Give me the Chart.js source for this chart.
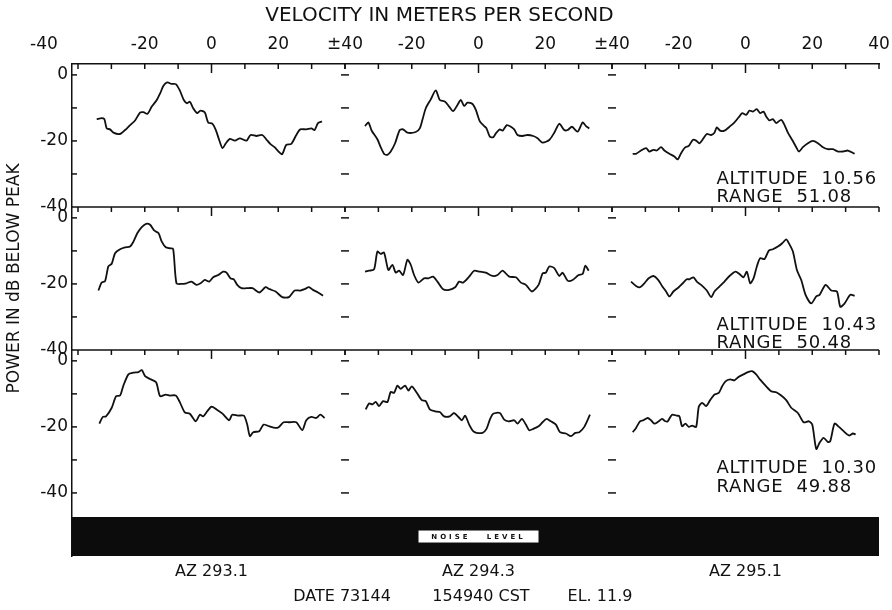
<!DOCTYPE html>
<html>
<head>
<meta charset="utf-8">
<title>Doppler spectra</title>
<script src="https://cdn.jsdelivr.net/npm/chart.js@4.4.1/dist/chart.umd.min.js"></script>
<style>
  body { margin: 0; background: #fff; }
  canvas { display: block; }
</style>
</head>
<body>
<canvas id="myChart" width="892" height="610"></canvas>
<script>
// DATA - velocity (m/s) and power (dB below peak), rows = altitude, columns = azimuth
const vel11 = [-34.4,-32.9,-32.1,-31.4,-30.4,-29.4,-27.4,-25.9,-24.4,-22.9,-21.4,-20.4,-19.2,-17.9,-16.4,-15.4,-14.4,-13.3,-12.0,-10.7,-9.5,-8.3,-7.3,-6.5,-5.5,-4.3,-3.3,-2.0,-1.0,0.3,1.3,2.3,3.3,4.3,5.5,7.0,8.5,10.5,11.7,13.5,15.2,16.4,17.6,18.9,20.4,21.2,22.4,23.9,25.4,26.6,28.4,29.9,30.9,31.9,33.1];
const pow11 = [-13.4,-13.1,-13.4,-16.2,-16.5,-17.5,-17.9,-16.7,-15.2,-13.8,-11.4,-11.3,-11.8,-9.6,-7.6,-5.6,-3.3,-2.3,-2.7,-2.8,-4.7,-7.6,-8.6,-8.1,-10.1,-11.6,-10.8,-11.4,-14.4,-14.8,-16.7,-19.7,-22.2,-20.7,-19.4,-19.9,-19.2,-19.9,-18.2,-18.5,-18.2,-19.5,-20.9,-21.9,-23.5,-24.0,-21.2,-20.9,-18.2,-16.5,-16.5,-16.2,-16.7,-14.6,-14.1];

const vel12 = [-34.0,-33.0,-32.0,-30.3,-29.3,-28.3,-27.3,-26.3,-25.0,-23.6,-22.6,-21.3,-18.8,-17.6,-16.8,-15.8,-14.3,-12.8,-11.6,-10.0,-8.8,-7.6,-6.3,-5.3,-4.3,-3.3,-1.8,-0.8,0.4,1.7,2.4,3.4,4.4,5.2,6.4,7.2,8.5,9.7,10.7,11.7,13.2,14.7,16.4,17.7,19.2,21.2,22.7,24.2,25.7,26.7,28.0,29.7,31.2,32.2,33.2];
const pow12 = [-15.5,-14.4,-16.9,-19.5,-21.9,-23.9,-24.2,-23.2,-20.7,-16.7,-16.5,-17.5,-17.3,-16.2,-13.6,-10.1,-7.4,-4.7,-7.6,-8.1,-9.6,-11.0,-9.1,-7.6,-9.4,-8.4,-8.8,-10.6,-14.1,-15.5,-16.2,-18.7,-18.9,-17.7,-16.5,-16.9,-15.2,-15.7,-16.5,-18.2,-18.5,-18.2,-18.5,-19.2,-20.5,-19.7,-17.5,-14.8,-16.7,-16.7,-15.7,-17.2,-14.4,-15.5,-16.2];

const vel13 = [-33.8,-32.8,-31.3,-29.8,-28.8,-27.6,-26.6,-25.3,-24.3,-22.8,-21.3,-20.3,-19.3,-18.0,-17.0,-15.8,-14.8,-13.8,-12.8,-11.6,-10.3,-9.3,-8.6,-7.6,-6.3,-4.8,-3.3,-2.0,-1.0,0.2,1.2,2.2,3.4,4.4,5.4,6.2,7.2,8.2,9.2,10.7,11.7,12.7,14.0,15.2,16.0,17.2,18.7,20.2,21.7,23.2,24.7,26.2,27.7,29.2,30.7,32.7];
const pow13 = [-23.9,-23.9,-22.9,-22.2,-23.2,-22.7,-22.9,-21.9,-22.9,-23.9,-24.7,-25.6,-23.7,-21.9,-21.5,-19.7,-19.9,-20.7,-19.5,-17.9,-18.2,-17.5,-15.9,-16.9,-16.9,-15.7,-14.4,-12.8,-11.6,-12.1,-10.8,-11.1,-10.4,-11.6,-11.1,-12.6,-13.8,-13.4,-14.6,-13.6,-15.2,-17.5,-19.7,-21.9,-23.2,-21.9,-20.7,-20.0,-20.7,-21.9,-22.5,-22.5,-23.2,-23.2,-22.9,-23.9];

const vel21 = [-33.9,-32.9,-31.9,-30.9,-29.9,-28.9,-27.4,-25.9,-24.4,-23.4,-22.2,-20.9,-19.6,-18.4,-17.2,-15.9,-14.9,-13.7,-12.5,-11.5,-10.5,-9.0,-7.5,-6.0,-4.5,-3.0,-2.0,-0.7,0.5,2.0,3.5,4.5,5.7,6.7,7.7,9.0,10.5,12.3,14.3,16.2,17.4,19.2,21.2,23.2,24.9,26.6,27.9,29.2,30.4,31.9,33.4];
const pow21 = [-22.0,-19.6,-19.2,-14.7,-13.9,-10.7,-9.5,-8.9,-8.7,-7.2,-4.6,-2.8,-1.8,-2.1,-3.8,-4.6,-7.2,-8.9,-9.2,-9.4,-19.8,-20.0,-19.8,-19.3,-20.3,-19.6,-18.8,-19.3,-18.0,-17.3,-16.3,-16.6,-18.3,-18.6,-20.3,-21.3,-21.3,-21.3,-22.6,-21.0,-21.6,-22.3,-24.0,-24.0,-22.0,-22.0,-21.6,-21.0,-21.8,-22.6,-23.6];

const vel22 = [-34.0,-32.8,-31.3,-30.3,-29.3,-28.3,-27.0,-25.8,-24.8,-23.8,-22.6,-21.3,-20.3,-19.3,-18.0,-16.3,-15.0,-13.6,-12.3,-10.6,-8.8,-7.0,-5.8,-4.6,-2.8,-1.3,0.4,2.2,4.2,5.7,7.2,9.2,11.2,12.7,14.2,16.0,18.0,19.2,20.2,21.2,22.7,24.2,25.2,26.7,28.2,30.0,31.2,32.0,33.0];
const pow22 = [-16.3,-16.0,-15.6,-10.2,-10.9,-10.5,-15.8,-14.2,-16.6,-16.0,-17.3,-12.7,-14.2,-17.3,-19.6,-18.3,-18.3,-17.8,-19.3,-21.6,-21.8,-21.0,-19.3,-19.6,-17.8,-16.0,-16.3,-16.6,-17.6,-17.3,-16.0,-17.8,-18.0,-19.6,-20.3,-22.3,-20.3,-16.8,-16.6,-14.7,-15.2,-17.6,-16.6,-19.0,-18.8,-17.3,-17.0,-14.5,-16.0];

const vel23 = [-34.3,-32.8,-31.6,-30.3,-29.0,-27.6,-26.3,-25.0,-23.8,-22.8,-21.6,-20.0,-18.8,-17.6,-16.8,-15.6,-14.6,-13.3,-11.6,-10.3,-9.3,-7.8,-6.3,-4.8,-3.0,-1.8,-0.6,0.4,1.4,2.4,3.4,4.4,5.7,7.0,8.2,9.7,11.0,12.2,13.0,14.2,15.4,16.7,18.0,19.7,21.2,22.2,24.0,25.7,27.4,28.4,29.7,31.4,32.7];
const pow23 = [-19.3,-20.6,-21.0,-19.8,-18.3,-17.6,-18.6,-20.6,-22.3,-23.8,-22.3,-21.0,-19.8,-18.6,-18.6,-18.0,-19.3,-20.3,-22.0,-24.0,-22.3,-20.8,-19.3,-17.6,-16.3,-17.0,-18.0,-16.3,-19.8,-18.3,-14.7,-12.2,-12.5,-9.9,-9.5,-8.7,-7.7,-6.5,-7.7,-10.2,-15.8,-18.8,-23.3,-25.9,-23.8,-23.3,-20.3,-22.0,-22.3,-26.9,-25.9,-23.3,-23.6];

const vel31 = [-33.6,-32.6,-31.6,-29.9,-28.6,-27.4,-26.4,-24.9,-23.4,-21.9,-20.9,-19.9,-18.4,-16.6,-15.4,-13.7,-12.5,-10.7,-9.5,-8.0,-6.5,-4.7,-3.5,-2.5,-1.3,0.0,1.5,3.3,5.3,6.2,7.9,9.7,10.7,11.5,12.5,14.3,15.6,17.2,19.2,20.2,21.6,23.2,25.4,27.2,28.4,29.9,31.4,32.6,33.9];
const pow31 = [-19.0,-17.0,-16.8,-14.2,-10.7,-10.5,-7.5,-4.1,-3.6,-3.4,-2.8,-4.6,-5.5,-6.5,-10.7,-10.2,-10.5,-10.5,-12.5,-15.6,-16.0,-18.3,-16.3,-16.8,-15.3,-13.9,-14.7,-16.0,-18.0,-16.3,-16.6,-16.6,-19.3,-22.8,-21.6,-21.3,-19.3,-19.8,-20.3,-20.0,-18.6,-18.6,-18.6,-21.0,-18.0,-17.0,-17.3,-16.3,-17.3];

const vel32 = [-33.8,-32.8,-31.8,-30.8,-29.8,-28.6,-27.3,-26.3,-25.3,-24.3,-23.3,-22.0,-21.0,-20.0,-18.6,-17.0,-15.8,-14.6,-13.0,-11.6,-10.3,-8.6,-7.3,-6.0,-5.0,-4.0,-2.8,-1.6,-0.6,1.2,2.4,3.4,4.4,6.4,7.7,9.0,10.7,11.7,13.0,14.2,15.2,16.4,18.0,19.2,20.4,21.7,23.2,24.4,26.2,27.7,29.0,30.2,31.7,33.4];
const pow32 = [-14.7,-12.9,-13.2,-12.4,-13.7,-12.2,-12.5,-9.4,-9.7,-7.5,-8.5,-7.5,-9.0,-7.7,-9.5,-11.9,-12.2,-14.7,-15.3,-15.5,-16.8,-16.8,-15.8,-17.0,-18.0,-16.6,-19.3,-21.3,-21.8,-21.8,-20.6,-17.8,-16.0,-15.8,-17.8,-18.3,-18.0,-19.0,-17.6,-19.3,-21.0,-20.6,-19.8,-18.6,-17.6,-18.3,-19.3,-21.6,-22.0,-22.8,-21.8,-21.6,-20.0,-16.3];

const vel33 = [-33.8,-32.8,-31.6,-30.6,-29.3,-28.3,-27.3,-26.0,-25.0,-24.0,-23.3,-22.0,-20.6,-19.8,-19.0,-18.0,-17.0,-16.0,-14.8,-14.0,-13.0,-11.8,-10.6,-9.3,-8.0,-7.0,-6.0,-4.6,-3.3,-2.0,-0.6,0.7,2.0,3.2,4.4,6.0,7.7,9.2,10.7,12.2,13.7,15.7,17.4,19.0,20.0,21.2,22.2,23.4,24.7,25.4,26.7,28.0,29.4,31.0,32.2,33.0];
const pow33 = [-21.6,-20.3,-18.3,-18.0,-17.3,-18.0,-19.0,-18.3,-17.6,-18.3,-18.3,-16.3,-16.6,-16.8,-19.8,-19.0,-20.0,-19.6,-20.0,-13.9,-12.7,-13.7,-11.9,-10.2,-9.7,-7.7,-6.2,-5.6,-5.9,-4.8,-4.1,-3.4,-3.1,-4.1,-5.7,-7.5,-9.2,-9.5,-10.5,-11.9,-14.2,-15.8,-18.6,-18.3,-19.3,-26.7,-24.8,-23.3,-24.6,-24.3,-19.0,-20.0,-21.3,-22.6,-22.0,-22.3];

// tick values
const velTicks = [-40, -30, -20, -10, 0, 10, 20, 30, 40];
const powTicks = [0, -10, -20, -30, -40];

// panel labels
const azimuths = ['AZ 293.1', 'AZ 294.3', 'AZ 295.1'];
const altitudes = ['10.56', '10.43', '10.30'];
const ranges = ['51.08', '50.48', '49.88'];
const noiseTop = -47.3;   // top of noise band, dB

//SETUP
const INK = '#111';
const FONT = "'DejaVu Sans', 'Liberation Sans', sans-serif";
Chart.defaults.font.family = FONT;
Chart.defaults.color = INK;

function trace(vel, pow, xId, yId) {
  return {
    data: vel.map((v, k) => ({x: v, y: pow[k]})),
    xAxisID: xId, yAxisID: yId,
    borderColor: INK, borderWidth: 1.8,
    pointRadius: 0, tension: 0.25, fill: false
  };
}

function noiseBand(xId, xmin) {
  return {
    data: [{x: xmin, y: noiseTop}, {x: 40.5, y: noiseTop}],
    xAxisID: xId, yAxisID: 'y3',
    borderWidth: 0, pointRadius: 0,
    backgroundColor: '#0c0c0c', fill: 'start'
  };
}

function velLabel(v, col) {
  if (v % 20 !== 0) return '';
  if (v === -40) return col === 0 ? '-40' + '\u2003'.repeat(4) : '\u00b140';
  if (v === 40) return col === 2 ? '40' : '';
  return String(v);
}

function velAxis(col) {
  return {
    type: 'linear', position: 'top', stack: 'vel',
    stackWeight: col === 0 ? 81.8 : 80, weight: 3 - col,
    min: col === 0 ? -41.8 : -40, max: 40,
    grid: {drawOnChartArea: false, drawTicks: false},
    border: {color: INK, width: 1.5},
    afterBuildTicks: s => { s.ticks = velTicks.map(v => ({value: v})); },
    afterFit: s => { s.height = 33; s.paddingLeft = 0; s.paddingRight = 0; },
    ticks: {padding: 9, autoSkip: false, maxRotation: 0, font: {size: 17}, color: INK,
            callback: v => velLabel(v, col)}
  };
}

function powAxis(row) {
  const min = row === 2 ? -59.1 : -40;
  return {
    type: 'linear', position: 'left', stack: 'pow',
    stackWeight: 3.3 - min, weight: 3 - row,
    min: min, max: 3.3,
    grid: {drawOnChartArea: false, drawTicks: false},
    border: {color: INK, width: 1.5},
    afterBuildTicks: s => { s.ticks = powTicks.map(v => ({value: v})); },
    afterFit: s => { s.width = 72; },
    ticks: {padding: 4, font: {size: 17}, color: INK,
            callback: v => (v % 20 === 0 ? String(v) : '')},
    title: {display: row === 1, text: 'POWER IN dB BELOW PEAK', color: INK,
            font: {size: 17}, padding: {top: 4, bottom: 0}}
  };
}

// ticks, separators and lettering that sit on top of the panels
const extras = {
  id: 'extras',
  afterDatasetsDraw(chart) {
    const ctx = chart.ctx;
    const area = chart.chartArea;
    const xs = ['x1', 'x2', 'x3'].map(id => chart.scales[id]);
    const ys = ['y1', 'y2', 'y3'].map(id => chart.scales[id]);
    const seg = (a, b, c, d) => { ctx.beginPath(); ctx.moveTo(a, b); ctx.lineTo(c, d); ctx.stroke(); };

    ctx.save();
    ctx.strokeStyle = INK;
    ctx.lineWidth = 1.5;
    ys.forEach((y, r) => {
      if (r > 0) seg(area.left, y.top, area.right, y.top);
      xs.forEach(x => velTicks.forEach(v => {
        const px = x.getPixelForValue(v);
        seg(px, y.top, px, y.top + (v === 0 ? 9 : 5));
      }));
      powTicks.forEach(p => {
        if (r < 2 && p === -40) return;
        const py = y.getPixelForValue(p);
        seg(area.left, py, area.left + 5, py);
        xs.slice(1).forEach(x => seg(x.left - 4, py, x.left + 4, py));
      });
    });

    // altitude / range notes
    ctx.fillStyle = INK;
    ctx.font = '18px ' + FONT;
    ctx.letterSpacing = '0.8px';
    ctx.textAlign = 'left';
    ctx.textBaseline = 'middle';
    const altY = [-31.5, -32.4, -32.4];
    const rngY = [-37.0, -37.9, -38.2];
    ys.forEach((y, r) => {
      const tx = xs[2].getPixelForValue(-8.7);
      ctx.fillText('ALTITUDE  ' + altitudes[r], tx, y.getPixelForValue(altY[r]));
      ctx.fillText('RANGE  ' + ranges[r], tx, y.getPixelForValue(rngY[r]));
    });

    // noise level tag
    const nx = xs[1].getPixelForValue(0);
    const ny = (ys[2].getPixelForValue(noiseTop) + area.bottom) / 2;
    ctx.fillStyle = '#fff';
    ctx.fillRect(nx - 60, ny - 6, 120, 12);
    ctx.fillStyle = INK;
    ctx.font = 'bold 7px ' + FONT;
    ctx.letterSpacing = '3px';
    ctx.textAlign = 'center';
    ctx.fillText('NOISE   LEVEL', nx, ny + 0.5);
    ctx.letterSpacing = '0px';

    // azimuths and run info
    ctx.font = '16px ' + FONT;
    xs.forEach((x, c) => ctx.fillText(azimuths[c], x.getPixelForValue(0), area.bottom + 16));
    ctx.fillText('DATE 73144', 342, area.bottom + 41);
    ctx.fillText('154940 CST', 481, area.bottom + 41);
    ctx.fillText('EL. 11.9', 600, area.bottom + 41);
    ctx.restore();
  }
};

//CONFIG
const config = {
  type: 'line',
  data: {
    datasets: [
      trace(vel11, pow11, 'x1', 'y1'), trace(vel12, pow12, 'x2', 'y1'), trace(vel13, pow13, 'x3', 'y1'),
      trace(vel21, pow21, 'x1', 'y2'), trace(vel22, pow22, 'x2', 'y2'), trace(vel23, pow23, 'x3', 'y2'),
      trace(vel31, pow31, 'x1', 'y3'), trace(vel32, pow32, 'x2', 'y3'), trace(vel33, pow33, 'x3', 'y3'),
      noiseBand('x1', -41.8), noiseBand('x2', -40.5), noiseBand('x3', -40.5)
    ]
  },
  options: {
    responsive: false,
    animation: false,
    layout: {padding: {left: 0, right: 13, top: 0, bottom: 54}},
    scales: {
      x1: velAxis(0), x2: velAxis(1), x3: velAxis(2),
      y1: powAxis(0), y2: powAxis(1), y3: powAxis(2)
    },
    plugins: {
      legend: {display: false},
      tooltip: {enabled: false},
      title: {display: true, text: 'VELOCITY IN METERS PER SECOND', color: INK,
              font: {size: 20, weight: 'normal'}, padding: {top: 4, bottom: 3}}
    }
  },
  plugins: [extras]
};

//RENDER
let myChart = new Chart(document.getElementById('myChart'), config);
</script>
</body>
</html>
